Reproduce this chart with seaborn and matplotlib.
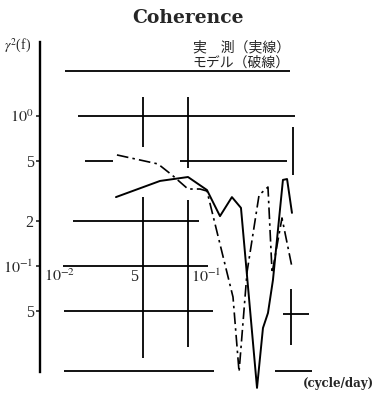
import matplotlib
matplotlib.use("Agg")
import matplotlib.pyplot as plt
import seaborn as sns
import pandas as pd

# measured coherence (solid) and model coherence (dash-dot)
freq_measured = [0.0326, 0.0647, 0.100, 0.1343, 0.1645, 0.198, 0.228, 0.2926,
                 0.321, 0.347, 0.375, 0.438, 0.467, 0.504]
coh_measured = [0.288, 0.369, 0.392, 0.321, 0.215, 0.288, 0.244, 0.0154,
                0.0386, 0.0486, 0.0807, 0.375, 0.380, 0.226]
freq_model = [0.0331, 0.0627, 0.078, 0.100, 0.1205, 0.1343, 0.2014, 0.2213,
              0.2506, 0.302, 0.347, 0.370, 0.4315, 0.504]
coh_model = [0.55, 0.479, 0.404, 0.326, 0.326, 0.316, 0.0621, 0.0197,
             0.0912, 0.297, 0.336, 0.0898, 0.209, 0.0985]

# reference rules (horizontal)
h_level = [2.0, 1.0, 0.5, 0.5, 0.2, 0.1, 0.05, 0.02, 0.02, 0.048]
h_from = [0.01476, 0.01806, 0.02014, 0.0883, 0.01671, 0.0143, 0.01453, 0.01453, 0.387, 0.438]
h_to = [0.489, 0.528, 0.0311, 0.467, 0.1187, 0.1365, 0.1476, 0.1499, 0.689, 0.657]
# reference rules (vertical)
v_at = [0.05, 0.05, 0.1, 0.1, 0.512, 0.497]
v_from = [0.621, 0.0243, 0.45, 0.0289, 0.404, 0.0296]
v_to = [1.339, 0.288, 1.339, 0.275, 0.845, 0.0703]

ytick_vals = [1.0, 0.5, 0.2, 0.1, 0.05]
ytick_text = ["$10^{0}$", "5", "2", "$10^{-1}$", "5"]
xtick_vals = [0.01, 0.05, 0.1]
xtick_text = ["$10^{-2}$", "5", "$10^{-1}$"]

sns.set_style("white")
plt.rcParams["font.family"] = ["DejaVu Serif", "Noto Sans CJK JP"]
plt.rcParams["mathtext.fontset"] = "stix"
num_font = ["Liberation Serif", "DejaVu Serif"]

W, H = 378, 393
fig = plt.figure(figsize=(W / 100, H / 100), dpi=100)
# axes: 0.01 at px 40, 148 px per decade in x; 1.0 at py 116, 150 px per decade in y
ax = fig.add_axes([40 / W, (H - 392) / H, 296 / W, 350 / H])
ax.set_xscale("log")
ax.set_yscale("log")
ax.set_xlim(0.01, 1.0)
ax.set_ylim(10 ** (-276 / 150), 10 ** (74 / 150))
ax.patch.set_alpha(0)

for s in ["top", "right", "bottom"]:
    ax.spines[s].set_visible(False)
ax.spines["left"].set_linewidth(1.7)
ax.spines["left"].set_color("black")
ax.spines["left"].set_bounds(0.0197, 10 ** (74 / 150))

ax.hlines(h_level, h_from, h_to, color="black", lw=1.3)
ax.vlines(v_at, v_from, v_to, color="black", lw=1.3)

sns.lineplot(x=freq_measured, y=coh_measured, ax=ax, color="black", lw=1.4,
             sort=False, estimator=None)
sns.lineplot(x=freq_model, y=coh_model, ax=ax, color="black", lw=1.2,
             sort=False, estimator=None, linestyle=(0, (7, 2.5, 1.5, 2.5)))

ax.set_yticks(ytick_vals)
ax.set_yticklabels(ytick_text, fontsize=11.5, family=num_font)
ax.minorticks_off()
ax.tick_params(axis="y", left=True, direction="out", length=3, width=1.2, pad=1.5)
ax.set_xticks([])
ax.set_xlabel("")
ax.set_ylabel("")

# frequency labels written inside the plot area
offsets = [(3, "left"), (-4, "right"), (2, "left")]
for xv, txt, (dx, ha) in zip(xtick_vals, xtick_text, offsets):
    ax.annotate(txt, (xv, 0.0844), xytext=(dx, 0), textcoords="offset points",
                ha=ha, va="center", fontsize=11.5, family=num_font)

fig.text(188 / W, 1 - 18 / H, "Coherence", ha="center", va="center",
         fontsize=13.5, fontweight="bold")
fig.text(4 / W, 1 - 46 / H, "$\\gamma^2$(f)", ha="left", va="center",
         fontsize=10, family=num_font)
jp = ["Noto Sans CJK JP", "DejaVu Sans"]
fig.text(290 / W, 1 - 47 / H, "実　測（実線）", ha="right", va="center",
         fontsize=10, family=jp)
fig.text(290 / W, 1 - 63 / H, "モデル（破線）", ha="right", va="center",
         fontsize=10, family=jp)
fig.text(374 / W, 1 - 383 / H, "(cycle/day)", ha="right", va="center",
         fontsize=8.5, fontweight="bold")

fig.savefig("out.png", dpi=100)
